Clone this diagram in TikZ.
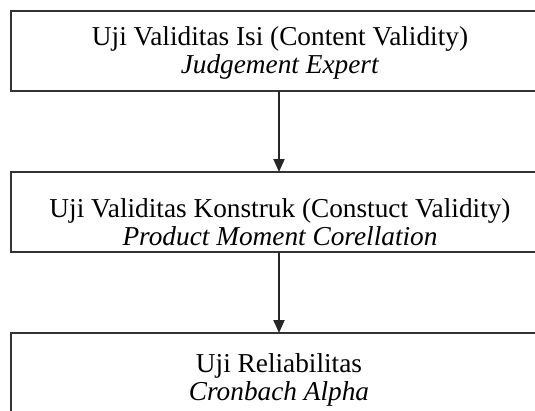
\documentclass[tikz,border=0pt]{standalone}
\usepackage{fontspec}
\setmainfont{Liberation Serif}
\usetikzlibrary{arrows.meta}
\begin{document}
\begin{tikzpicture}[x=1pt,y=-1pt,
  boxline/.style={draw=black!80, line width=2pt},
  label/.style={align=center, font=\fontsize{27.3}{28}\selectfont, inner sep=0pt},
  conn/.style={draw=black!85, line width=1.8pt, -{Triangle[length=13pt,width=11pt]}}]
\useasboundingbox (0,0) rectangle (535,410);
\fill[white] (0,0) rectangle (535,410);
\draw[boxline] (11,11) rectangle (547,91);
\draw[boxline] (11,172) rectangle (547,252);
\draw[boxline] (11,333) rectangle (547,430);
\coordinate (b1) at (279,91);
\coordinate (t2) at (279,172);
\coordinate (b2) at (279,252);
\coordinate (t3) at (279,333);
\node[label] (n1) at (280,53) {Uji Validitas Isi (Content Validity)\\\textit{Judgement Expert}};
\node[label] (n2) at (280,222) {Uji Validitas Konstruk (Constuct Validity)\\\textit{Product Moment Corellation}};
\node[label] (n3) at (279,380) {Uji Reliabilitas\\\textit{Cronbach Alpha}};
\draw[conn] (b1) -- (t2);
\draw[conn] (b2) -- (t3);
\end{tikzpicture}
\end{document}
